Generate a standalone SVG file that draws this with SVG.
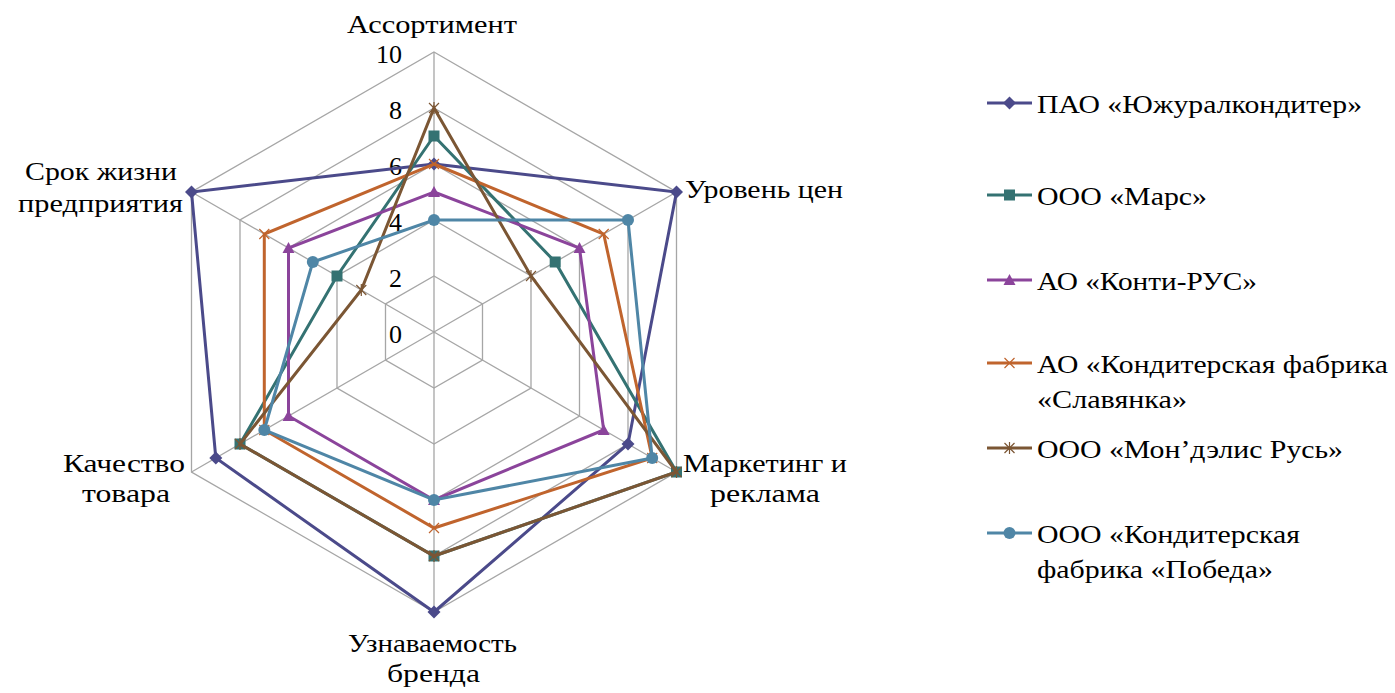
<svg xmlns="http://www.w3.org/2000/svg" width="1395" height="693" viewBox="0 0 1395 693">
<style>
.grid{fill:none;stroke:#A6A6A6;stroke-width:1.3}
.s{fill:none;stroke-width:3;stroke-linejoin:miter}
.t{font-size:26px;fill:#000}
.n{font-size:26px;fill:#000;text-anchor:end}
</style>
<defs>
<marker id="mDia" markerUnits="userSpaceOnUse" markerWidth="16" markerHeight="16" refX="8" refY="8" overflow="visible"><path d="M8 1.5 L14.5 8 L8 14.5 L1.5 8 Z" fill="#4B4A8A"/></marker>
<marker id="mSq" markerUnits="userSpaceOnUse" markerWidth="16" markerHeight="16" refX="8" refY="8" overflow="visible"><rect x="2.5" y="2.5" width="11" height="11" fill="#347272"/></marker>
<marker id="mTri" markerUnits="userSpaceOnUse" markerWidth="16" markerHeight="16" refX="8" refY="8" overflow="visible"><path d="M8 2 L14 13 L2 13 Z" fill="#8B449B"/></marker>
<marker id="mX" markerUnits="userSpaceOnUse" markerWidth="16" markerHeight="16" refX="8" refY="8" overflow="visible"><path d="M3 3 L13 13 M13 3 L3 13" stroke="#C0642D" stroke-width="1.2"/></marker>
<marker id="mStar" markerUnits="userSpaceOnUse" markerWidth="16" markerHeight="16" refX="8" refY="8" overflow="visible"><path d="M3 3 L13 13 M13 3 L3 13 M8 2 L8 14" stroke="#7B5634" stroke-width="1.2"/></marker>
<marker id="mCir" markerUnits="userSpaceOnUse" markerWidth="16" markerHeight="16" refX="8" refY="8" overflow="visible"><circle cx="8" cy="8" r="6" fill="#4F86A6"/></marker>
</defs>
<rect width="1395" height="693" fill="#fff"/>

<g id="grid">
<polygon class="grid" points="434,276 482.5,304 482.5,360 434,388 385.5,360 385.5,304"/>
<polygon class="grid" points="434,220 531,276 531,388 434,444 337,388 337,276"/>
<polygon class="grid" points="434,164 579.5,248 579.5,416 434,500 288.5,416 288.5,248"/>
<polygon class="grid" points="434,108 628,220 628,444 434,556 240,444 240,220"/>
<polygon class="grid" points="434,52 676.5,192 676.5,472 434,612 191.5,472 191.5,192"/>
<path class="grid" d="M434 332 L434 52 M434 332 L676.5 192 M434 332 L676.5 472 M434 332 L434 612 M434 332 L191.5 472 M434 332 L191.5 192"/>
</g>

<g id="axis-values" font-family="Liberation Serif, serif">
<text class="n" x="402" y="63">10</text>
<text class="n" x="402" y="119">8</text>
<text class="n" x="402" y="175">6</text>
<text class="n" x="402" y="231">4</text>
<text class="n" x="402" y="287">2</text>
<text class="n" x="402" y="343">0</text>
</g>

<g id="axis-labels" font-family="Liberation Serif, serif">
<text class="t" x="347" y="33" textLength="170" lengthAdjust="spacingAndGlyphs">Ассортимент</text>
<text class="t" x="685" y="198" textLength="158" lengthAdjust="spacingAndGlyphs">Уровень цен</text>
<text class="t" x="683" y="472" textLength="164" lengthAdjust="spacingAndGlyphs">Маркетинг и</text>
<text class="t" x="710" y="502" textLength="110" lengthAdjust="spacingAndGlyphs">реклама</text>
<text class="t" x="348" y="652" textLength="169" lengthAdjust="spacingAndGlyphs">Узнаваемость</text>
<text class="t" x="387" y="682" textLength="93" lengthAdjust="spacingAndGlyphs">бренда</text>
<text class="t" x="63" y="472" textLength="122" lengthAdjust="spacingAndGlyphs">Качество</text>
<text class="t" x="82" y="502" textLength="88" lengthAdjust="spacingAndGlyphs">товара</text>
<text class="t" x="25" y="180" textLength="152" lengthAdjust="spacingAndGlyphs">Срок жизни</text>
<text class="t" x="18" y="212" textLength="165" lengthAdjust="spacingAndGlyphs">предприятия</text>
</g>

<g id="series">
<polygon id="s-yuzhural" class="s" stroke="#4B4A8A" marker-start="url(#mDia)" marker-mid="url(#mDia)" points="434,164 676.5,192 628,444 434,612 215.8,458 191.5,192"/>
<polygon id="s-mars" class="s" stroke="#347272" marker-start="url(#mSq)" marker-mid="url(#mSq)" points="434,136 555.2,262 676.5,472 434,556 240,444 337,276"/>
<polygon id="s-konti" class="s" stroke="#8B449B" marker-start="url(#mTri)" marker-mid="url(#mTri)" points="434,192 579.5,248 603.7,430 434,500 288.5,416 288.5,248"/>
<polygon id="s-slavyanka" class="s" stroke="#C0642D" marker-start="url(#mX)" marker-mid="url(#mX)" points="434,164 603.7,234 652.2,458 434,528 264.3,430 264.3,234"/>
<polygon id="s-mondelis" class="s" stroke="#7B5634" marker-start="url(#mStar)" marker-mid="url(#mStar)" points="434,108 531,276 676.5,472 434,556 240,444 361.3,290"/>
<polygon id="s-pobeda" class="s" stroke="#4F86A6" marker-start="url(#mCir)" marker-mid="url(#mCir)" points="434,220 628,220 652.2,458 434,500 264.3,430 312.8,262"/>
</g>

<g id="legend" font-family="Liberation Serif, serif">
<g id="leg-yuzhural">
<polyline class="s" stroke="#4B4A8A" marker-mid="url(#mDia)" points="987,103 1009.5,103 1032,103"/>
<text class="t" x="1037" y="113" textLength="325" lengthAdjust="spacingAndGlyphs">ПАО «Южуралкондитер»</text>
</g>
<g id="leg-mars">
<polyline class="s" stroke="#347272" marker-mid="url(#mSq)" points="987,195 1009.5,195 1032,195"/>
<text class="t" x="1037" y="205" textLength="170" lengthAdjust="spacingAndGlyphs">ООО «Марс»</text>
</g>
<g id="leg-konti">
<polyline class="s" stroke="#8B449B" marker-mid="url(#mTri)" points="987,280 1009.5,280 1032,280"/>
<text class="t" x="1037" y="290" textLength="220" lengthAdjust="spacingAndGlyphs">АО «Конти-РУС»</text>
</g>
<g id="leg-slavyanka">
<polyline class="s" stroke="#C0642D" marker-mid="url(#mX)" points="987,363 1009.5,363 1032,363"/>
<text class="t" x="1037" y="373" textLength="351" lengthAdjust="spacingAndGlyphs">АО «Кондитерская фабрика</text>
<text class="t" x="1037" y="408" textLength="150" lengthAdjust="spacingAndGlyphs">«Славянка»</text>
</g>
<g id="leg-mondelis">
<polyline class="s" stroke="#7B5634" marker-mid="url(#mStar)" points="987,448 1009.5,448 1032,448"/>
<text class="t" x="1037" y="458" textLength="306" lengthAdjust="spacingAndGlyphs">ООО «Мон’дэлис Русь»</text>
</g>
<g id="leg-pobeda">
<polyline class="s" stroke="#4F86A6" marker-mid="url(#mCir)" points="987,533 1009.5,533 1032,533"/>
<text class="t" x="1037" y="543" textLength="263" lengthAdjust="spacingAndGlyphs">ООО «Кондитерская</text>
<text class="t" x="1037" y="578" textLength="236" lengthAdjust="spacingAndGlyphs">фабрика «Победа»</text>
</g>
</g>
</svg>
